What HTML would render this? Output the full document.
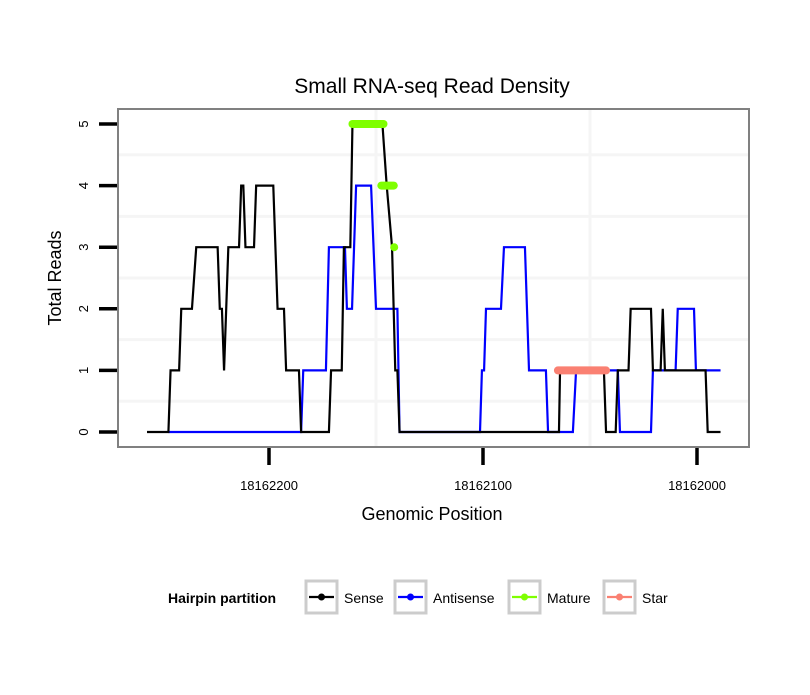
<!DOCTYPE html>
<html><head><meta charset="utf-8"><style>
body{margin:0;background:#fff;font-family:"Liberation Sans",sans-serif}
</style></head><body>
<svg id="c" width="810" height="690" xmlns="http://www.w3.org/2000/svg">
<rect width="810" height="690" fill="#fff"/>
<text x="432" y="93" font-size="21" text-anchor="middle" font-family="Liberation Sans, sans-serif">Small RNA-seq Read Density</text>
<g id="grid"></g>
<g id="series"></g>
<rect x="118" y="109" width="631" height="338" fill="none" stroke="#808080" stroke-width="2"/>
<g id="axes"></g>
<text x="432" y="520" font-size="18" text-anchor="middle">Genomic Position</text>
<text transform="translate(61,278) rotate(-90)" font-size="18" text-anchor="middle">Total Reads</text>
<g>
<text x="168" y="603" font-size="14" font-weight="bold">Hairpin partition</text>
<g id="legend"></g>
</g>
</svg>
<script>
const senseX=[18162257,18162247,18162246,18162242,18162241,18162236,18162234,18162224,18162223,18162222,18162221,18162219,18162214,18162213,18162212,18162211,18162207,18162206,18162198,18162196,18162193,18162192,18162186,18162185,18162172,18162171,18162166,18162165,18162162,18162161,18162147,18162145,18162142.5,18162141,18162140,18162139,18162064.5,18162064,18162043.5,18162042.5,18162038,18162037,18162032,18162031,18162021.5,18162020.6,18162017,18162016,18162015,18161996,18161995,18161989];
const senseY=[0,0,1,1,2,2,3,3,2,2,1,3,3,4,4,3,3,4,4,2,2,1,1,0,0,1,1,3,3,5,5,4,3,1,1,0,0,1,1,0,0,1,1,2,2,1,1,2,1,1,0,0];
const antiX=[18162247,18162185,18162184,18162173.4,18162172,18162164.5,18162163.6,18162161.2,18162159.3,18162152.3,18162150,18162140,18162139,18162101.4,18162100.5,18162099.5,18162098.6,18162091.6,18162090.2,18162080.4,18162078.5,18162070.6,18162069.6,18162058,18162056.5,18162037,18162036,18162021.5,18162020.6,18162010,18162009,18162001.4,18162000.5,18161989];
const antiY=[0,0,1,1,3,3,2,2,4,4,2,2,0,0,1,1,2,2,3,3,1,1,0,0,1,1,0,0,1,1,2,2,1,1];
const matureX=[[18162161,18162146.5],[18162147.5,18162141.7],[18162141.5,18162141.5]];
const matureY=[5,4,3];
const starX=[[18162065,18162042.5]];
const starY=[1];
const yTicks=[0,1,2,3,4,5];
const xTicks=[18162200,18162100,18162000];
const xTickLabels=["18162200","18162100","18162000"];

const NS="http://www.w3.org/2000/svg";
const X=p=>269+(18162200-p)*2.14;
const Y=v=>432-v*61.6;
function mk(tag,attrs,parent){const e=document.createElementNS(NS,tag);for(const k in attrs)e.setAttribute(k,attrs[k]);parent.appendChild(e);return e;}
const grid=document.getElementById('grid'),ser=document.getElementById('series'),ax=document.getElementById('axes'),leg=document.getElementById('legend');
for(let v=0.5;v<5;v+=1){const l=mk('line',{x1:118,x2:749,y1:Y(v),y2:Y(v),stroke:'#f5f5f5','stroke-width':3},grid);

}
[18162150,18162050].forEach(p=>{const l=mk('line',{x1:X(p),x2:X(p),y1:109,y2:447,stroke:'#f5f5f5','stroke-width':3},grid);

});
function poly(xs,ys,color,name){const pts=xs.map((x,i)=>X(x)+','+Y(ys[i])).join(' ');
const p=mk('polyline',{points:pts,fill:'none',stroke:color,'stroke-width':2.2,'stroke-linejoin':'miter'},ser);

}
poly(antiX,antiY,'#0000ff','antisense-line');
poly(senseX,senseY,'#000000','sense-line');
function segs(xs,ys,color,name){xs.forEach((s,i)=>{const l=mk('line',{x1:X(s[0]),x2:X(s[1]),y1:Y(ys[i]),y2:Y(ys[i]),stroke:color,'stroke-width':8,'stroke-linecap':'round'},ser);

});}
segs(matureX,matureY,'#7fff00','mature-segment');
segs(starX,starY,'#fa8072','star-segment');
yTicks.forEach(v=>{const t=mk('line',{x1:99,x2:117,y1:Y(v),y2:Y(v),stroke:'#000','stroke-width':3.5},ax);


const tx=mk('text',{transform:`translate(88,${Y(v)}) rotate(-90)`,'font-size':13,'text-anchor':'middle'},ax);tx.textContent=v;

});
xTicks.forEach((p,i)=>{const t=mk('line',{x1:X(p),x2:X(p),y1:448,y2:465,stroke:'#000','stroke-width':3.5},ax);


const tx=mk('text',{x:X(p),y:490,'font-size':13,'text-anchor':'middle'},ax);tx.textContent=xTickLabels[i];

});
[['Sense','#000',306],['Antisense','#0000ff',395],['Mature','#7fff00',509],['Star','#fa8072',604]].forEach(([n,c,x])=>{
const g=mk('g',{},leg);


mk('rect',{x:x,y:581,width:31,height:32,fill:'#fff',stroke:'#cccccc','stroke-width':3},g);
mk('line',{x1:x+3,x2:x+28,y1:597,y2:597,stroke:c,'stroke-width':2.2},g);
mk('circle',{cx:x+15.5,cy:597,r:3.5,fill:c},g);
const t=mk('text',{x:x+38,y:603,'font-size':14},g);t.textContent=n;});
</script>
</body></html>
